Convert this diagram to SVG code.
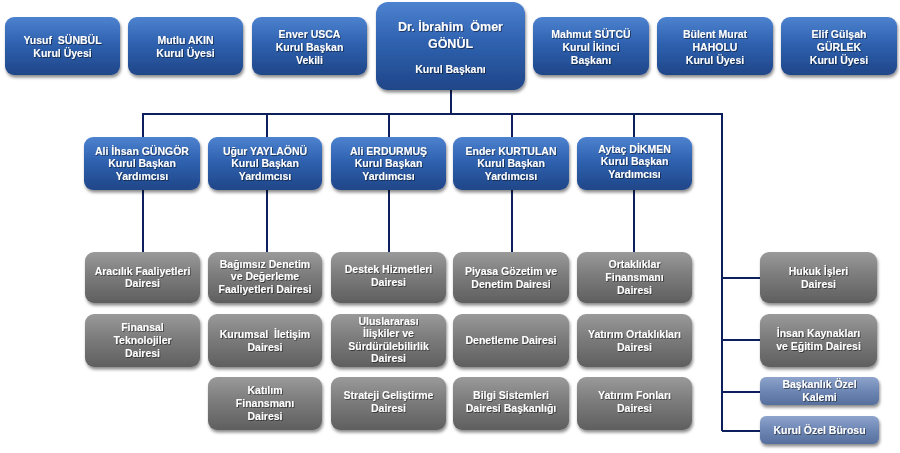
<svg xmlns="http://www.w3.org/2000/svg" width="900" height="453" viewBox="0 0 900 453">
<defs>
<linearGradient id="gBlue" x1="0" y1="0" x2="0" y2="1">
<stop offset="0" stop-color="#4d82cf"/>
<stop offset="0.45" stop-color="#2f62b0"/>
<stop offset="1" stop-color="#1f4688"/>
</linearGradient>
<linearGradient id="gGrey" x1="0" y1="0" x2="0" y2="1">
<stop offset="0" stop-color="#9a9a9a"/>
<stop offset="0.45" stop-color="#7c7c7c"/>
<stop offset="1" stop-color="#5f5f5f"/>
</linearGradient>
<linearGradient id="gSlate" x1="0" y1="0" x2="0" y2="1">
<stop offset="0" stop-color="#8ea4cc"/>
<stop offset="0.5" stop-color="#6d86b4"/>
<stop offset="1" stop-color="#566f9c"/>
</linearGradient>
<filter id="sh" x="-10%" y="-10%" width="125%" height="135%">
<feDropShadow dx="1" dy="2.5" stdDeviation="1.8" flood-color="#000" flood-opacity="0.45"/>
</filter>
<filter id="tsh" x="-10%" y="-20%" width="120%" height="150%">
<feDropShadow dx="0.8" dy="0.8" stdDeviation="0.4" flood-color="#000" flood-opacity="0.6"/>
</filter>
</defs>
<style>
.b{fill:url(#gBlue);filter:url(#sh)}
.g{fill:url(#gGrey);filter:url(#sh)}
.s{fill:url(#gSlate);filter:url(#sh)}
text{font-family:"Liberation Sans",Arial,sans-serif;font-weight:bold;font-size:10.5px;fill:#fff;text-anchor:middle;filter:url(#tsh)}
.big{font-size:12.5px}
.ln{stroke:#0d1f5c;stroke-width:2;fill:none}
</style>
<rect width="900" height="453" fill="#fff"/>
<g id="connectors">
<path class="ln" d="M451 90V114M143 137V114H722V431M267 114V137M389 114V137M512 114V137M634 114V137"/>
<path class="ln" d="M143 190V252M267 190V252M389 190V252M512 190V252M634 190V252"/>
<path class="ln" d="M722 278H760M722 340H760M722 392H760M722 431H760"/>
</g>
<g id="n-sunbul"><rect class="b" x="5" y="17" width="115" height="58" rx="9"/><text x="62.5" y="44">Yusuf&#160; SÜNBÜL</text><text x="62.5" y="57">Kurul Üyesi</text></g>
<g id="n-akin"><rect class="b" x="128" y="17" width="115" height="58" rx="9"/><text x="185.5" y="44">Mutlu AKIN</text><text x="185.5" y="57">Kurul Üyesi</text></g>
<g id="n-usca"><rect class="b" x="252" y="17" width="115" height="58" rx="9"/><text x="309.5" y="38">Enver USCA</text><text x="309.5" y="51">Kurul Başkan</text><text x="309.5" y="64">Vekili</text></g>
<g id="n-gonul"><rect class="b" x="376" y="2" width="149" height="88" rx="12"/><text class="big" x="450.5" y="31">Dr. İbrahim&#160; Ömer</text><text class="big" x="450.5" y="48">GÖNÜL</text><text x="450.5" y="73">Kurul Başkanı</text></g>
<g id="n-sutcu"><rect class="b" x="533" y="17" width="116" height="58" rx="9"/><text x="591" y="38">Mahmut SÜTCÜ</text><text x="591" y="51">Kurul İkinci</text><text x="591" y="64">Başkanı</text></g>
<g id="n-haholu"><rect class="b" x="657" y="17" width="116" height="58" rx="9"/><text x="715" y="38">Bülent Murat</text><text x="715" y="51">HAHOLU</text><text x="715" y="64">Kurul Üyesi</text></g>
<g id="n-gurlek"><rect class="b" x="781" y="17" width="116" height="58" rx="9"/><text x="839" y="38">Elif Gülşah</text><text x="839" y="51">GÜRLEK</text><text x="839" y="64">Kurul Üyesi</text></g>

<g id="n-gungor"><rect class="b" x="84" y="137" width="116" height="53" rx="9"/><text x="142" y="155">Ali İhsan GÜNGÖR</text><text x="142" y="167">Kurul Başkan</text><text x="142" y="180">Yardımcısı</text></g>
<g id="n-yaylaonu"><rect class="b" x="208" y="137" width="114" height="53" rx="9"/><text x="265" y="155">Uğur YAYLAÖNÜ</text><text x="265" y="167">Kurul Başkan</text><text x="265" y="180">Yardımcısı</text></g>
<g id="n-erdurmus"><rect class="b" x="331" y="137" width="115" height="53" rx="9"/><text x="388.5" y="155">Ali ERDURMUŞ</text><text x="388.5" y="167">Kurul Başkan</text><text x="388.5" y="180">Yardımcısı</text></g>
<g id="n-kurtulan"><rect class="b" x="453" y="137" width="116" height="53" rx="9"/><text x="511" y="155">Ender KURTULAN</text><text x="511" y="167">Kurul Başkan</text><text x="511" y="180">Yardımcısı</text></g>
<g id="n-dikmen"><rect class="b" x="577" y="137" width="115" height="53" rx="9"/><text x="634.5" y="153">Aytaç DİKMEN</text><text x="634.5" y="165">Kurul Başkan</text><text x="634.5" y="178">Yardımcısı</text></g>

<g id="d-aracilik"><rect class="g" x="85" y="252" width="115" height="51" rx="9"/><text x="142.5" y="275">Aracılık Faaliyetleri</text><text x="142.5" y="287">Dairesi</text></g>
<g id="d-finteknoloji"><rect class="g" x="85" y="314" width="115" height="53" rx="9"/><text x="142.5" y="331">Finansal</text><text x="142.5" y="344">Teknolojiler</text><text x="142.5" y="357">Dairesi</text></g>

<g id="d-bagimsiz"><rect class="g" x="208" y="252" width="114" height="51" rx="9"/><text x="265" y="268">Bağımsız Denetim</text><text x="265" y="280">ve Değerleme</text><text x="265" y="293">Faaliyetleri Dairesi</text></g>
<g id="d-kurumsal"><rect class="g" x="208" y="314" width="114" height="53" rx="9"/><text x="265" y="338">Kurumsal&#160; İletişim</text><text x="265" y="351">Dairesi</text></g>
<g id="d-katilim"><rect class="g" x="208" y="377" width="114" height="53" rx="9"/><text x="265" y="394">Katılım</text><text x="265" y="407">Finansmanı</text><text x="265" y="420">Dairesi</text></g>

<g id="d-destek"><rect class="g" x="331" y="252" width="115" height="51" rx="9"/><text x="388.5" y="273">Destek Hizmetleri</text><text x="388.5" y="286">Dairesi</text></g>
<g id="d-uluslararasi"><rect class="g" x="331" y="314" width="115" height="53" rx="9"/><text x="388.5" y="325">Uluslararası</text><text x="388.5" y="337">İlişkiler ve</text><text x="388.5" y="350">Sürdürülebilirlik</text><text x="388.5" y="362">Dairesi</text></g>
<g id="d-strateji"><rect class="g" x="331" y="377" width="115" height="53" rx="9"/><text x="388.5" y="399">Strateji Geliştirme</text><text x="388.5" y="412">Dairesi</text></g>

<g id="d-piyasa"><rect class="g" x="453" y="252" width="116" height="51" rx="9"/><text x="511" y="275">Piyasa Gözetim ve</text><text x="511" y="288">Denetim Dairesi</text></g>
<g id="d-denetleme"><rect class="g" x="453" y="314" width="116" height="53" rx="9"/><text x="511" y="344">Denetleme Dairesi</text></g>
<g id="d-bilgi"><rect class="g" x="453" y="377" width="116" height="53" rx="9"/><text x="511" y="399">Bilgi Sistemleri</text><text x="511" y="412">Dairesi Başkanlığı</text></g>

<g id="d-ortakliklar"><rect class="g" x="577" y="252" width="115" height="51" rx="9"/><text x="634.5" y="268">Ortaklıklar</text><text x="634.5" y="281">Finansmanı</text><text x="634.5" y="294">Dairesi</text></g>
<g id="d-yatirimort"><rect class="g" x="577" y="314" width="115" height="53" rx="9"/><text x="634.5" y="338">Yatırım Ortaklıkları</text><text x="634.5" y="351">Dairesi</text></g>
<g id="d-fonlar"><rect class="g" x="577" y="377" width="115" height="53" rx="9"/><text x="634.5" y="399">Yatırım Fonları</text><text x="634.5" y="412">Dairesi</text></g>

<g id="d-hukuk"><rect class="g" x="760" y="252" width="117" height="51" rx="9"/><text x="818.5" y="275">Hukuk İşleri</text><text x="818.5" y="288">Dairesi</text></g>
<g id="d-insan"><rect class="g" x="760" y="314" width="117" height="53" rx="9"/><text x="818.5" y="337">İnsan Kaynakları</text><text x="818.5" y="350">ve Eğitim Dairesi</text></g>
<g id="d-kalem"><rect class="s" x="760" y="377" width="119" height="28" rx="6"/><text x="819.5" y="388">Başkanlık Özel</text><text x="819.5" y="401">Kalemi</text></g>
<g id="d-buro"><rect class="s" x="760" y="416" width="119" height="28" rx="6"/><text x="819.5" y="434">Kurul Özel Bürosu</text></g>
</svg>
